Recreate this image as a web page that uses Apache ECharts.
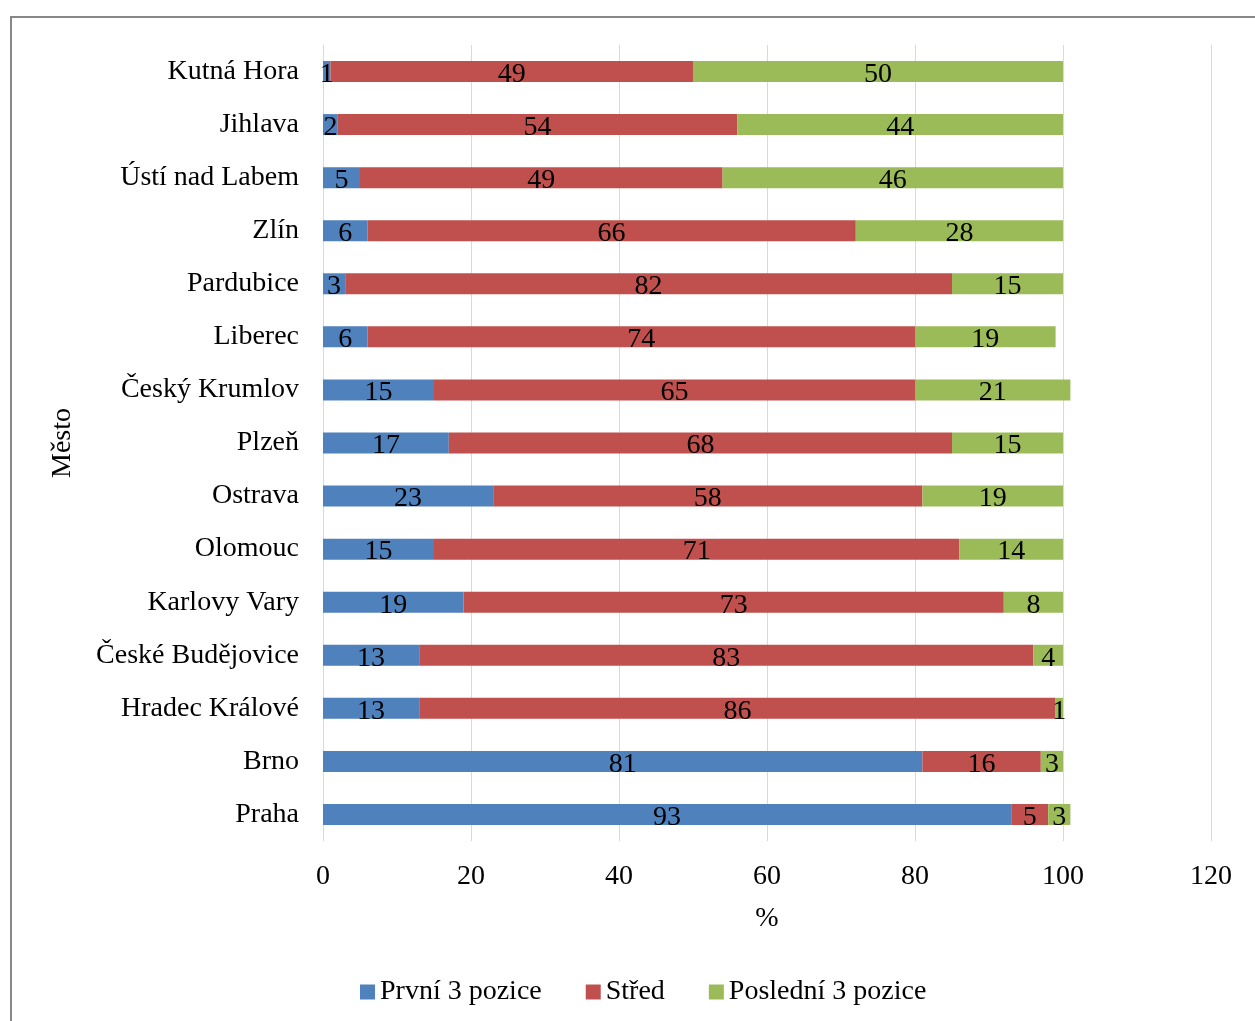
<!DOCTYPE html>
<html>

<head>
    <title>Pozice podle měst</title>
    <meta charset="utf-8">
    <script src="https://cdn.jsdelivr.net/npm/echarts@6/dist/echarts.min.js"></script>
    <style>
        html, body { margin: 0; padding: 0; background: #fff; }
    </style>
</head>

<body>
    <div id="chart" style="width: 1255px;height:1021px;"></div>
    <script>
        // categories bottom to top (as drawn on the y axis)
        var cities = ['Praha', 'Brno', 'Hradec Králové', 'České Budějovice', 'Karlovy Vary', 'Olomouc',
            'Ostrava', 'Plzeň', 'Český Krumlov', 'Liberec', 'Pardubice', 'Zlín', 'Ústí nad Labem',
            'Jihlava', 'Kutná Hora'];
        var prvni = [93, 81, 13, 13, 19, 15, 23, 17, 15, 6, 3, 6, 5, 2, 1];
        var stred = [5, 16, 86, 83, 73, 71, 58, 68, 65, 74, 82, 66, 49, 54, 49];
        var posledni = [3, 3, 1, 4, 8, 14, 19, 15, 21, 19, 15, 28, 46, 44, 50];
        var seriesNames = ['První 3 pozice', 'Střed', 'Poslední 3 pozice'];
        var colors = ['#4F81BD', '#C0504D', '#9BBB59'];

        var font = '"Liberation Serif", "Times New Roman", serif';
        var fontSize = 28;
        var myChart = echarts.init(document.getElementById('chart'));

        function barSeries(name, values) {
            return {
                name: name,
                type: 'bar',
                stack: 'total',
                barWidth: 21,
                data: values,
                label: {
                    show: true,
                    position: 'inside',
                    color: '#000',
                    fontFamily: font,
                    fontSize: fontSize,
                    offset: [0, 3]
                }
            };
        }

        var option = {
            animation: false,
            color: colors,
            textStyle: { fontFamily: font },
            graphic: [{
                type: 'rect',
                shape: { x: 11, y: 17, width: 1300, height: 1100 },
                style: { fill: 'none', stroke: '#878787', lineWidth: 2 },
                silent: true
            }],
            grid: {
                left: 323,
                right: 44,
                top: 45,
                bottom: 180
            },
            legend: {
                data: seriesNames,
                bottom: 10,
                left: 355,
                itemWidth: 15,
                itemHeight: 15,
                itemGap: 44,
                icon: 'rect',
                textStyle: { fontFamily: font, fontSize: fontSize, color: '#000' }
            },
            xAxis: {
                type: 'value',
                min: 0,
                max: 120,
                interval: 20,
                name: '%',
                nameLocation: 'middle',
                nameGap: 64,
                nameTextStyle: { fontFamily: font, fontSize: fontSize, color: '#000' },
                axisLine: { show: false },
                axisTick: { show: false },
                axisLabel: { fontFamily: font, fontSize: fontSize, color: '#000', margin: 22 },
                splitLine: { lineStyle: { color: '#d9d9d9', width: 1 } }
            },
            yAxis: {
                type: 'category',
                data: cities,
                name: 'Město',
                nameLocation: 'middle',
                nameRotate: 90,
                nameGap: 246,
                nameTextStyle: { fontFamily: font, fontSize: fontSize, color: '#000' },
                axisLine: { show: false },
                axisTick: { show: false },
                axisLabel: { fontFamily: font, fontSize: fontSize, color: '#000', margin: 24 }
            },
            series: [
                barSeries(seriesNames[0], prvni),
                barSeries(seriesNames[1], stred),
                barSeries(seriesNames[2], posledni)
            ]
        };
        myChart.setOption(option);
    </script>
</body>

</html>
